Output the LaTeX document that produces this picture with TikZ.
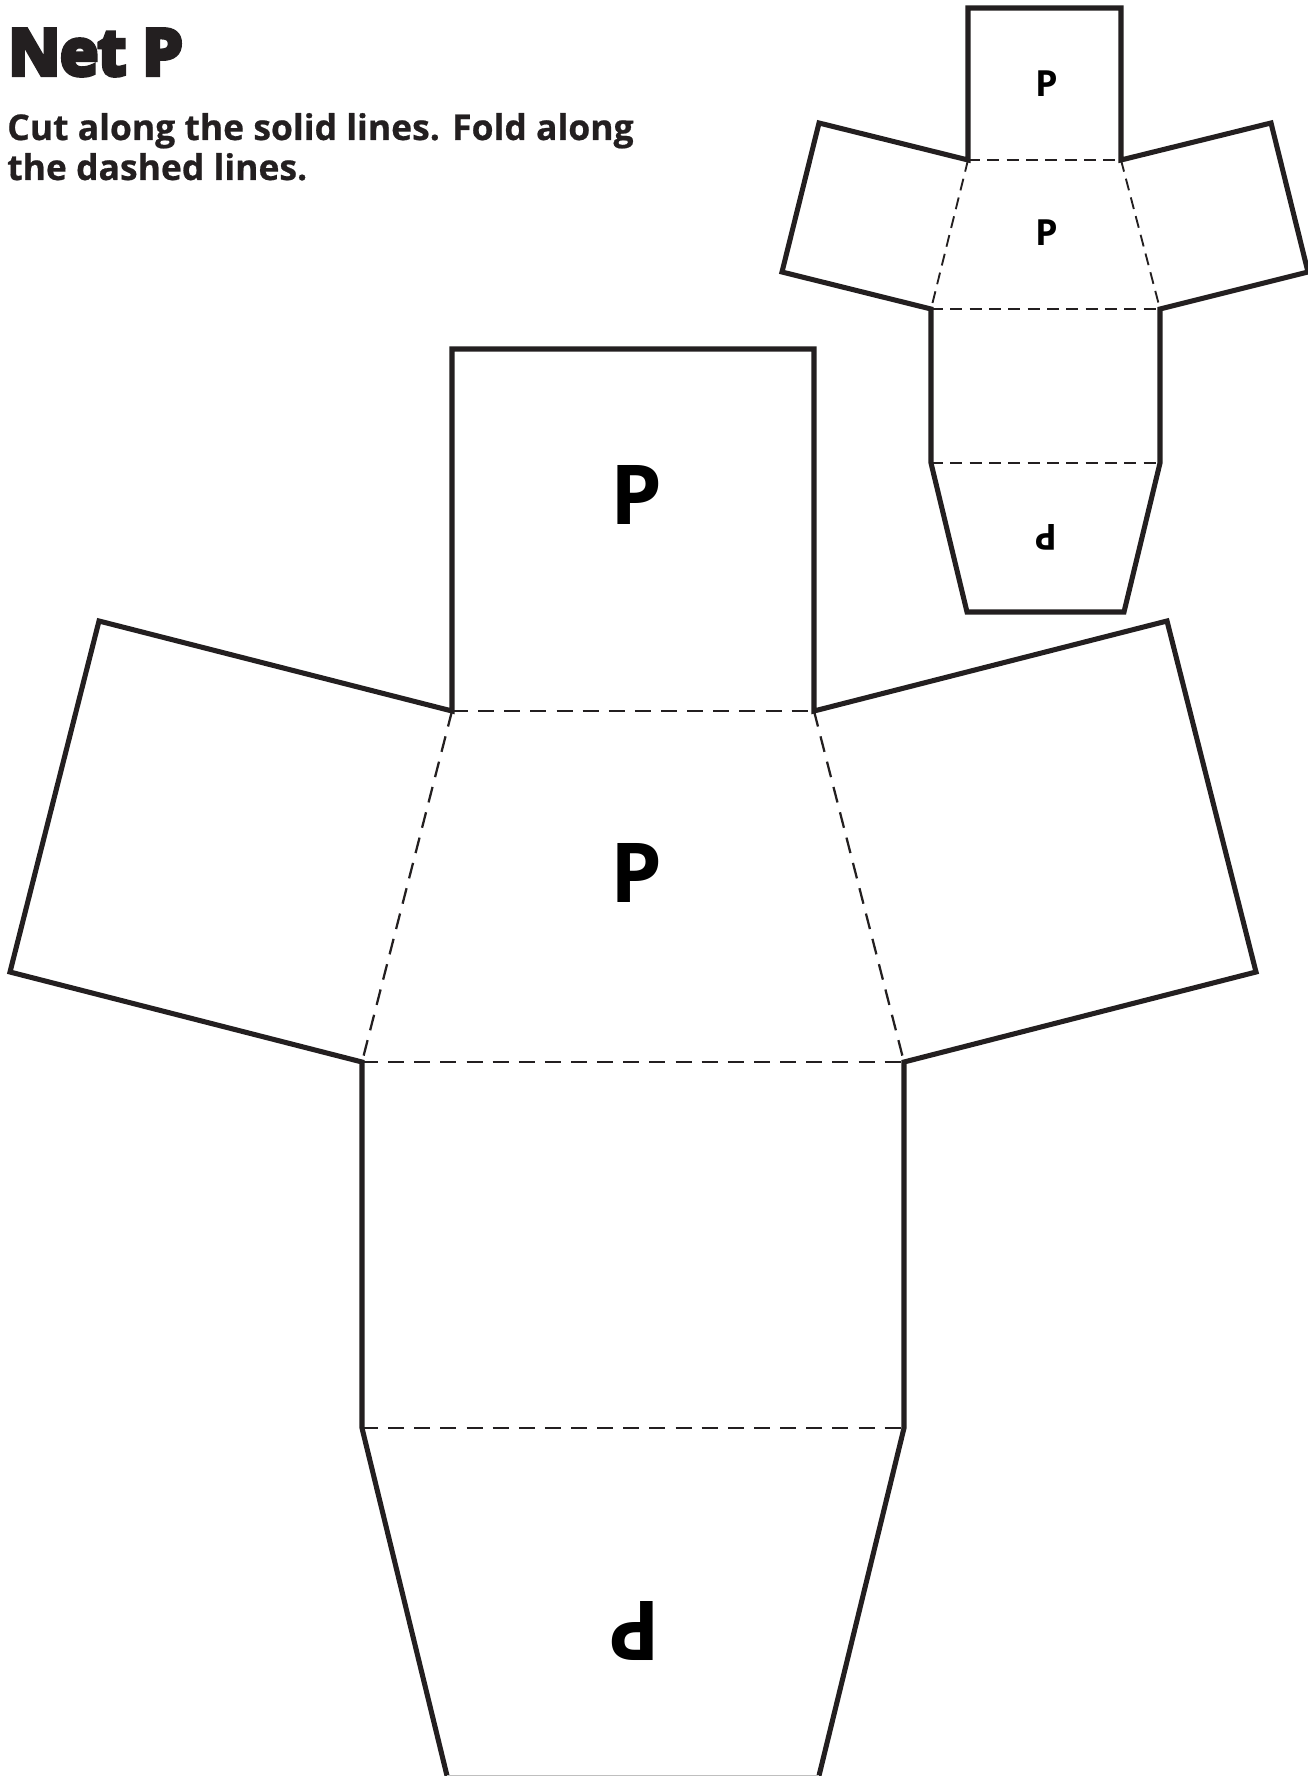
\documentclass[tikz,border=0pt]{standalone}
\usepackage{fontspec}
\setmainfont{Open Sans}[BoldFeatures={FakeBold=0.6}]
\newfontfamily\heavyfont{Open Sans}[BoldFeatures={FakeBold=7}]
\newfontfamily\letterfont{Open Sans}
\definecolor{ink}{HTML}{231F20}
\tikzset{
  cutline/.style={draw=ink,line width=3.8pt,line join=miter,miter limit=10},
  foldbig/.style={draw=ink,line width=1.7pt,dash pattern=on 12pt off 7.6pt},
  foldsmall/.style={draw=ink,line width=1.4pt,dash pattern=on 9pt off 5.5pt},
  bigletter/.style={inner sep=0pt,font=\letterfont\fontsize{62}{62}\selectfont\bfseries,text=black},
  smallletter/.style={inner sep=0pt,font=\letterfont\fontsize{27}{27}\selectfont\bfseries,text=black},
  titletext/.style={inner sep=0pt,anchor=base west,text=ink,font=\heavyfont\fontsize{48}{48}\selectfont\bfseries},
  introtext/.style={inner sep=0pt,anchor=base west,text=ink,font=\fontsize{26.6}{30}\selectfont\bfseries}
}
\begin{document}
\begin{tikzpicture}[x=0.75pt,y=-0.75pt]
\useasboundingbox (0,0) rectangle (1308,1776);
\fill[white] (0,0) rectangle (1308,1776);
% heading
\node[titletext] (title) at (8,75) {Net P};
\node[introtext] (introA) at (7,140) {Cut along the solid lines. Fold along};
\node[introtext] (introB) at (7,180) {the dashed lines.};
% small net
\coordinate (sa) at (968,160); \coordinate (sb) at (1121,160);
\coordinate (sc) at (931,309); \coordinate (sd) at (1160,309);
\coordinate (se) at (931,463); \coordinate (sf) at (1160,463);
\draw[cutline] (sa) -- (968,8) -- (1121,8) -- (sb) -- (1271,123) -- (1308,272) -- (sd) -- (sf) -- (1124,612) -- (967,612) -- (se) -- (sc) -- (782,272) -- (819,123) -- cycle;
\draw[foldsmall] (sa) -- (sb);
\draw[foldsmall] (sa) -- (sc);
\draw[foldsmall] (sb) -- (sd);
\draw[foldsmall] (sc) -- (sd);
\draw[foldsmall] (se) -- (sf);
\node[smallletter] (s1) at (1047,84) {P};
\node[smallletter] (s2) at (1047,233) {P};
\node[smallletter,rotate=180] (s3) at (1046,537) {P};
% large net
\coordinate (ba) at (452,711); \coordinate (bb) at (814,711);
\coordinate (bc) at (362,1062); \coordinate (bd) at (904,1062);
\coordinate (be) at (362,1428); \coordinate (bf) at (904,1428);
\coordinate (bg) at (450.5,1790); \coordinate (bh) at (815.5,1790);
\draw[cutline] (ba) -- (452,349) -- (814,349) -- (bb) -- (1167,621) -- (1256,972) -- (bd) -- (bf) -- (bh) -- (bg) -- (be) -- (bc) -- (10,972) -- (99,621) -- cycle;
\draw[foldbig] (ba) -- (bb);
\draw[foldbig] (ba) -- (bc);
\draw[foldbig] (bb) -- (bd);
\draw[foldbig] (bc) -- (bd);
\draw[foldbig] (be) -- (bf);
\draw[gray!50,line width=0.6pt] (447,1775.6) -- (819,1775.6);
\node[bigletter] (b1) at (636,495) {P};
\node[bigletter] (b2) at (636,873) {P};
\node[bigletter,rotate=180] (b3) at (635,1631) {P};
\end{tikzpicture}
\end{document}
